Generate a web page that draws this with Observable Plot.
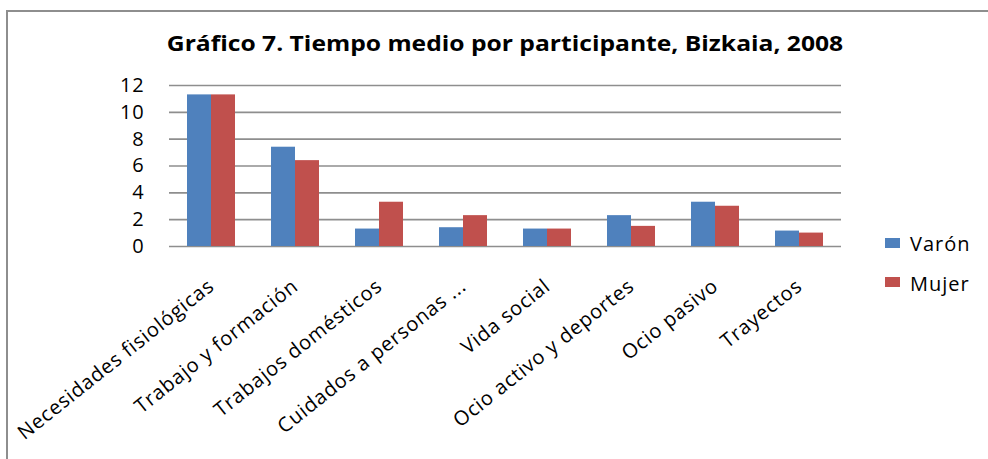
<!DOCTYPE html>
<html>
<head>
<meta charset="utf-8">
<script src="https://cdn.jsdelivr.net/npm/d3@7"></script>
<script src="https://cdn.jsdelivr.net/npm/@observablehq/plot@0.6"></script>
<style>
  html, body { margin: 0; padding: 0; background: #fff; }
  #wrap { position: relative; width: 988px; height: 459px; overflow: hidden; background: #fff; font-family: "Open Sans", sans-serif; }
  #border { position: absolute; left: 6px; top: 10px; width: 1200px; height: 600px; border-left: 2px solid #8e8e8e; border-top: 2px solid #8e8e8e; box-sizing: border-box; }
  #title { position: absolute; left: 0; width: 1010px; top: 31px; text-align: center; font-weight: bold; font-size: 22px; line-height: 1; color: #000; transform: scaleX(1.12); transform-origin: 505px 0; }
  #chart { position: absolute; left: 0; top: 0; }
  .leg { position: absolute; left: 885px; width: 15px; height: 10px; }
  .legt { position: absolute; left: 910px; font-size: 20px; letter-spacing: 1px; line-height: 1; color: #000; }
</style>
</head>
<body>
<div id="wrap">
  <div id="border"></div>
  <div id="chart"></div>
  <div id="title"></div>
  <div id="legend"></div>
</div>
<script>
const title = "Gráfico 7. Tiempo medio por participante, Bizkaia, 2008";
const categories = [
  "Necesidades fisiológicas",
  "Trabajo y formación",
  "Trabajos domésticos",
  "Cuidados a personas ...",
  "Vida social",
  "Ocio activo y deportes",
  "Ocio pasivo",
  "Trayectos"
];
const seriesNames = ["Varón", "Mujer"];
const varon = [11.3, 7.4, 1.3, 1.4, 1.3, 2.3, 3.3, 1.15];
const mujer = [11.3, 6.4, 3.3, 2.3, 1.3, 1.5, 3.0, 1.0];
const colors = ["#4F81BD", "#C0504D"];
const yTicks = [0, 2, 4, 6, 8, 10, 12];

const data = [];
categories.forEach((c, i) => {
  data.push({category: c, series: seriesNames[0], value: varon[i]});
  data.push({category: c, series: seriesNames[1], value: mujer[i]});
});

document.getElementById("title").textContent = title;

const chart = Plot.plot({
  width: 988,
  height: 459,
  marginLeft: 167,
  marginRight: 145,
  marginTop: 85,
  marginBottom: 213,
  style: {fontFamily: "Open Sans", fontSize: "20px", letterSpacing: "0.8px", color: "#000", background: "transparent"},
  fx: {domain: categories, padding: 0, label: null},
  x: {domain: seriesNames, paddingInner: 0, paddingOuter: 0.75, axis: null},
  y: {domain: [0, 12], ticks: yTicks, label: null},
  color: {domain: seriesNames, range: colors},
  marks: [
    Plot.gridY(yTicks, {stroke: "#8e8e8e", strokeOpacity: 1, strokeWidth: 1.6}),
    Plot.barY(data, {fx: "category", x: "series", y: "value", fill: "series"}),
    Plot.axisY(yTicks, {tickSize: 0, tickPadding: 25, fontSize: 20, tickFormat: d => String(d)}),
    Plot.axisFx({anchor: "bottom", tickSize: 0, tickPadding: 37, tickRotate: -38.5, fontSize: 20, label: null}),
    Plot.ruleX([0], {frameAnchor: "left", stroke: "#8e8e8e", strokeWidth: 1.6, facet: "exclude"})
  ]
});
document.getElementById("chart").appendChild(chart);

const legend = document.getElementById("legend");
seriesNames.forEach((s, i) => {
  const sw = document.createElement("div");
  sw.className = "leg";
  sw.style.background = colors[i];
  sw.style.top = (238 + i * 39) + "px";
  legend.appendChild(sw);
  const t = document.createElement("div");
  t.className = "legt";
  t.style.top = (234 + i * 40) + "px";
  t.textContent = s;
  legend.appendChild(t);
});
</script>
</body>
</html>
